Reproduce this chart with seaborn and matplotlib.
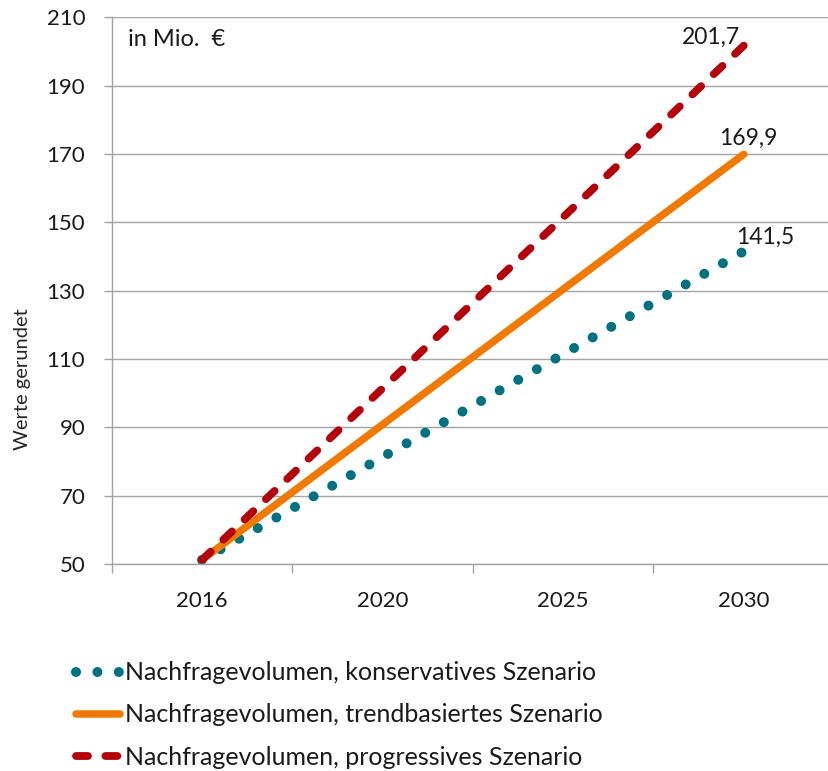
import numpy as np
import pandas as pd
import matplotlib
matplotlib.use("Agg")
import matplotlib.pyplot as plt
import matplotlib.colors as mcolors
import seaborn as sns

# Categories and series values
years = ["2016", "2020", "2025", "2030"]
konservativ = [51.2, 81.3, 111.4, 141.5]
trendbasiert = [51.2, 90.8, 130.4, 169.9]
progressiv = [51.2, 101.4, 151.5, 201.7]

series_names = [
    "Nachfragevolumen, konservatives Szenario",
    "Nachfragevolumen, trendbasiertes Szenario",
    "Nachfragevolumen, progressives Szenario",
]
series_values = [konservativ, trendbasiert, progressiv]
end_labels = ["141,5", "169,9", "201,7"]
y_ticks = [50, 70, 90, 110, 130, 150, 170, 190, 210]

colors = ["#00717F", "#F07A00", "#B4000A"]
widths = [7.2, 5.4, 5.6]
dash_styles = [(0.001, 2.14), "", (1.54, 2.24)]
# label offsets in pixels (dx, dy) relative to the last point
label_offsets = [(21, 7), (5, 9), (-33, 2)]

df = pd.DataFrame({
    "Jahr": years * 3,
    "Wert": konservativ + trendbasiert + progressiv,
    "Szenario": np.repeat(series_names, len(years)),
})

sns.set_theme(style="white")
plt.rcParams["font.family"] = ["Lato", "DejaVu Sans"]
plt.rcParams["text.color"] = "#1a1a1a"

fig = plt.figure(figsize=(8.29, 7.71), dpi=100)
ax = fig.add_axes([0.1347, 0.2685, 0.8714, 0.7091])

sns.lineplot(
    data=df, x="Jahr", y="Wert", hue="Szenario", style="Szenario",
    hue_order=series_names, style_order=series_names,
    palette=dict(zip(series_names, colors)),
    dashes=dict(zip(series_names, dash_styles)),
    sort=False, ax=ax, legend=False,
    dash_capstyle="round", solid_capstyle="round",
)

# per-series line widths
color_to_width = {mcolors.to_hex(c): w for c, w in zip(colors, widths)}
handles = {}
for line in ax.lines:
    key = mcolors.to_hex(line.get_color())
    if key in color_to_width:
        line.set_linewidth(color_to_width[key])
        handles[key] = line
legend_handles = [handles[mcolors.to_hex(c)] for c in colors]

ax.set_xlim(-0.5, 3.5)
ax.set_ylim(50, 210)
ax.set_yticks(y_ticks)
ax.set_yticklabels([str(v) for v in y_ticks])

# category boundaries as tick marks, labels centred on the categories
ax.set_xticks([-0.5, 0.5, 1.5, 2.5, 3.5])
ax.set_xticklabels([])
ax.set_xticks(range(len(years)), labels=years, minor=True)

grey = "#a3a3a3"
ax.tick_params(axis="x", which="major", length=6.5, width=1.0, color=grey, direction="out", bottom=True)
ax.tick_params(axis="x", which="minor", length=0, pad=19.5, labelsize=16, labelcolor="#1a1a1a", bottom=True)
ax.tick_params(axis="y", length=6, width=1.0, color=grey, direction="out", pad=13, labelsize=16, labelcolor="#1a1a1a", left=True)

ax.set_axisbelow(True)
ax.yaxis.grid(True, color=grey, linewidth=1.0)
ax.xaxis.grid(False)
for side in ["top", "right"]:
    ax.spines[side].set_visible(False)
for side in ["left", "bottom"]:
    ax.spines[side].set_color(grey)
    ax.spines[side].set_linewidth(1.0)

ax.set_xlabel("")
ax.set_ylabel("Werte gerundet", fontsize=14.5)
ax.yaxis.set_label_coords(-0.112, 0.339)

ax.text(0.0226, 0.959, "in Mio.  €", transform=ax.transAxes, ha="left", va="center", fontsize=17)

# value labels at the final year
for vals, lab, (dx, dy) in zip(series_values, end_labels, label_offsets):
    ax.annotate(lab, xy=(len(years) - 1, vals[-1]), xytext=(dx, dy),
                textcoords="offset pixels", ha="center", va="baseline", fontsize=16.5)

fig.legend(
    legend_handles, series_names, loc="center left",
    bbox_to_anchor=(75.7 / 829, 1 - 715 / 771), bbox_transform=fig.transFigure,
    frameon=False, fontsize=18, handlelength=1.76, handletextpad=0.22,
    labelspacing=0.77, borderpad=0, borderaxespad=0,
)

fig.savefig("out.png", dpi=100)
